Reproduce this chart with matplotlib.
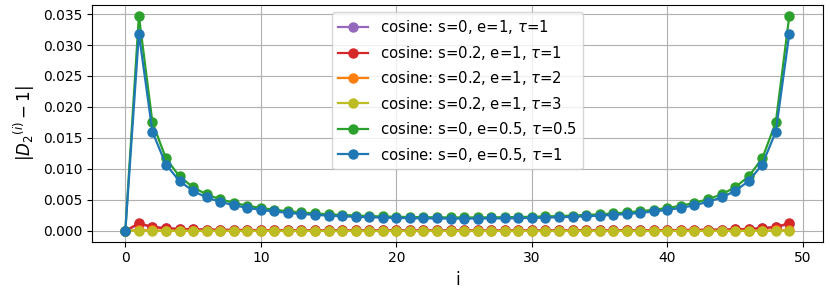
import matplotlib
matplotlib.use("Agg")
import matplotlib.pyplot as plt
import numpy as np

idx = np.arange(50)

labels = [
    r"cosine: s=0, e=1, $\tau$=1",
    r"cosine: s=0.2, e=1, $\tau$=1",
    r"cosine: s=0.2, e=1, $\tau$=2",
    r"cosine: s=0.2, e=1, $\tau$=3",
    r"cosine: s=0, e=0.5, $\tau$=0.5",
    r"cosine: s=0, e=0.5, $\tau$=1",
]
colors = ["#9467bd", "#d62728", "#ff7f0e", "#bcbd22", "#2ca02c", "#1f77b4"]

# left half (i = 0..25); the right half mirrors it (i = 26..49)
purple_half = [0.0, 0.00110, 0.00068, 0.00045, 0.00034, 0.00027, 0.00022, 0.00019,
               0.00017, 0.00015, 0.00014, 0.00013, 0.00012, 0.00011, 0.00011, 0.00010,
               0.00010, 0.00009, 0.00009, 0.00009, 0.00009, 0.00008, 0.00008, 0.00008,
               0.00008, 0.00008]
red_half = [0.0, 0.00127, 0.00064, 0.00043, 0.00032, 0.00026, 0.00022, 0.00019,
            0.00017, 0.00015, 0.00014, 0.00013, 0.00012, 0.00011, 0.00010, 0.00010,
            0.00009, 0.00009, 0.00009, 0.00009, 0.00008, 0.00008, 0.00008, 0.00008,
            0.00008, 0.00008]
orange_half = [0.0, 0.00015, 0.00008, 0.00005, 0.00004, 0.00003, 0.00003, 0.00002,
               0.00002, 0.00002, 0.00002, 0.00002, 0.00002, 0.00001, 0.00001, 0.00001,
               0.00001, 0.00001, 0.00001, 0.00001, 0.00001, 0.00001, 0.00001, 0.00001,
               0.00001, 0.00001]
yellow_half = [0.0, 0.00005, 0.00003, 0.00002, 0.00001, 0.00001, 0.00001, 0.00001,
               0.00001, 0.00001, 0.0, 0.0, 0.0, 0.0, 0.0, 0.0,
               0.0, 0.0, 0.0, 0.0, 0.0, 0.0, 0.0, 0.0,
               0.0, 0.0]
green_half = [0.0, 0.03472, 0.01750, 0.01170, 0.00880, 0.00705, 0.00590, 0.00512,
              0.00453, 0.00407, 0.00371, 0.00342, 0.00318, 0.00299, 0.00283, 0.00269,
              0.00258, 0.00249, 0.00241, 0.00234, 0.00229, 0.00225, 0.00222, 0.00220,
              0.00218, 0.00218]
blue_half = [0.0, 0.03185, 0.01600, 0.01070, 0.00805, 0.00645, 0.00540, 0.00470,
             0.00415, 0.00373, 0.00340, 0.00314, 0.00292, 0.00274, 0.00260, 0.00247,
             0.00237, 0.00228, 0.00221, 0.00215, 0.00210, 0.00206, 0.00204, 0.00202,
             0.00200, 0.00200]


def full(half):
    # i = 0..25 then 26..49 equal to 24..1
    return list(half) + list(half[24:0:-1])


series = [full(h) for h in (purple_half, red_half, orange_half,
                            yellow_half, green_half, blue_half)]

fig = plt.figure(figsize=(8.3, 2.93), dpi=100)
ax = fig.add_axes([0.111, 0.175, 0.88, 0.808])
for vals, c, lab in zip(series, colors, labels):
    ax.plot(idx, vals, "-o", color=c, label=lab, markersize=6.5, linewidth=1.6)
ax.grid(True)
ax.set_xlabel("i", fontsize=12)
ax.set_ylabel(r"$|D_2{}^{(i)} - 1|$", fontsize=12)
ax.legend(loc="upper center", fontsize=10.7)
fig.savefig("out.png", dpi=100)
